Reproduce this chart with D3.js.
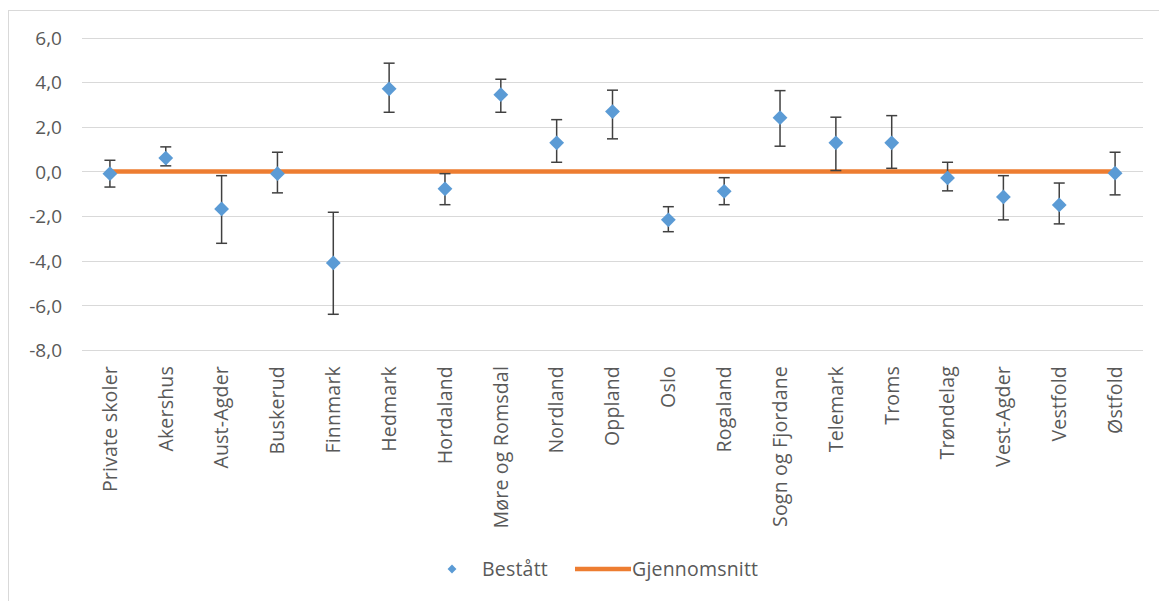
<!DOCTYPE html>
<html><head><meta charset="utf-8">
<script src="https://cdn.jsdelivr.net/npm/d3@7"></script>
<style>
html,body{margin:0;padding:0;background:#fff;}
text{font-family:"Open Sans",sans-serif;fill:#595959;}
</style></head>
<body><svg id="chart" width="1159" height="601"></svg>
<script>
const categories = ["Private skoler","Akershus","Aust-Agder","Buskerud","Finnmark","Hedmark","Hordaland","Møre og Romsdal","Nordland","Oppland","Oslo","Rogaland","Sogn og Fjordane","Telemark","Troms","Trøndelag","Vest-Agder","Vestfold","Østfold"];
const values = [-0.1,0.6,-1.68,-0.1,-4.1,3.7,-0.78,3.44,1.28,2.68,-2.17,-0.89,2.41,1.28,1.28,-0.29,-1.14,-1.5,-0.08];
const errHigh = [0.5,1.1,-0.19,0.86,-1.83,4.85,-0.1,4.13,2.32,3.64,-1.58,-0.28,3.62,2.43,2.5,0.41,-0.19,-0.52,0.86];
const errLow = [-0.7,0.25,-3.22,-0.96,-6.4,2.65,-1.49,2.65,0.41,1.46,-2.7,-1.49,1.13,0.04,0.14,-0.87,-2.17,-2.35,-1.05];
const average = categories.map(() => 0);
const yTicks = [-8,-6,-4,-2,0,2,4,6];
const legendLabels = ["Bestått","Gjennomsnitt"];

(function(){
const svg = d3.select("#chart");
const mLeft = 82, mRight = 1143, mTop = 37.5, mBottom = 350;

// chart border (left and top)
svg.append("line").attr("x1",8.5).attr("x2",8.5).attr("y1",10).attr("y2",601).attr("stroke","#d9d9d9");
svg.append("line").attr("x1",8).attr("x2",1159).attr("y1",10.5).attr("y2",10.5).attr("stroke","#d9d9d9");

const x = d3.scaleBand().domain(categories).range([mLeft,mRight]);
const y = d3.scaleLinear().domain([-8,6]).range([mBottom,mTop]);
const cx = c => x(c) + x.bandwidth()/2;

// gridlines
svg.append("g").selectAll("line").data(yTicks).join("line")
  .attr("x1",mLeft).attr("x2",mRight)
  .attr("y1",d=>Math.round(y(d))+0.5).attr("y2",d=>Math.round(y(d))+0.5)
  .attr("stroke","#d9d9d9").attr("stroke-width",1);

// y axis labels
const yAxis = d3.axisLeft(y).tickValues(yTicks).tickSize(0).tickPadding(0)
  .tickFormat(d => d3.format(".1f")(d).replace(".",",").replace("−","-"));
const gy = svg.append("g").attr("transform",`translate(62,0)`).call(yAxis);
gy.select(".domain").remove();
gy.selectAll("text").style("font-size","19px").attr("fill","#595959").attr("dy","0.35em");

// x axis labels
const xAxis = d3.axisBottom(x).tickSize(0).tickPadding(0);
const gx = svg.append("g").attr("transform",`translate(0,${mBottom})`).call(xAxis);
gx.select(".domain").remove();
gx.selectAll("text").style("font-size","19.5px").style("letter-spacing","0.2px").attr("fill","#595959")
  .attr("transform","rotate(-90)").attr("text-anchor","end")
  .attr("x",-16).attr("y",0).attr("dy","0.35em");

// average line
const line = d3.line().x((d,i)=>cx(categories[i])).y(d=>y(d));
svg.append("path").datum(average).attr("d",line)
  .attr("fill","none").attr("stroke","#ED7D31").attr("stroke-width",4.5);

// error bars
const eb = svg.append("g").attr("stroke","#404040").attr("stroke-width",1.5);
categories.forEach((c,i)=>{
  const xc = cx(c);
  eb.append("line").attr("x1",xc).attr("x2",xc).attr("y1",y(errHigh[i])).attr("y2",y(errLow[i]));
  eb.append("line").attr("x1",xc-5.5).attr("x2",xc+5.5).attr("y1",y(errHigh[i])).attr("y2",y(errHigh[i]));
  eb.append("line").attr("x1",xc-5.5).attr("x2",xc+5.5).attr("y1",y(errLow[i])).attr("y2",y(errLow[i]));
});

// diamonds
const diamond = d3.symbol().type(d3.symbolDiamond2).size(140);
svg.append("g").selectAll("path").data(values).join("path")
  .attr("d",diamond)
  .attr("transform",(d,i)=>`translate(${cx(categories[i])},${y(d)})`)
  .attr("fill","#5B9BD5");

// legend
const lg = svg.append("g");
lg.append("path").attr("d",d3.symbol().type(d3.symbolDiamond2).size(50)).attr("transform","translate(452,569)").attr("fill","#5B9BD5");
lg.append("text").attr("x",482).attr("y",569).attr("dy","0.35em").style("font-size","19.5px").style("letter-spacing","0.2px").text(legendLabels[0]);
lg.append("line").attr("x1",575).attr("x2",631).attr("y1",569).attr("y2",569).attr("stroke","#ED7D31").attr("stroke-width",4.5);
lg.append("text").attr("x",632).attr("y",569).attr("dy","0.35em").style("font-size","19.5px").style("letter-spacing","0.2px").text(legendLabels[1]);
})();
</script></body></html>
